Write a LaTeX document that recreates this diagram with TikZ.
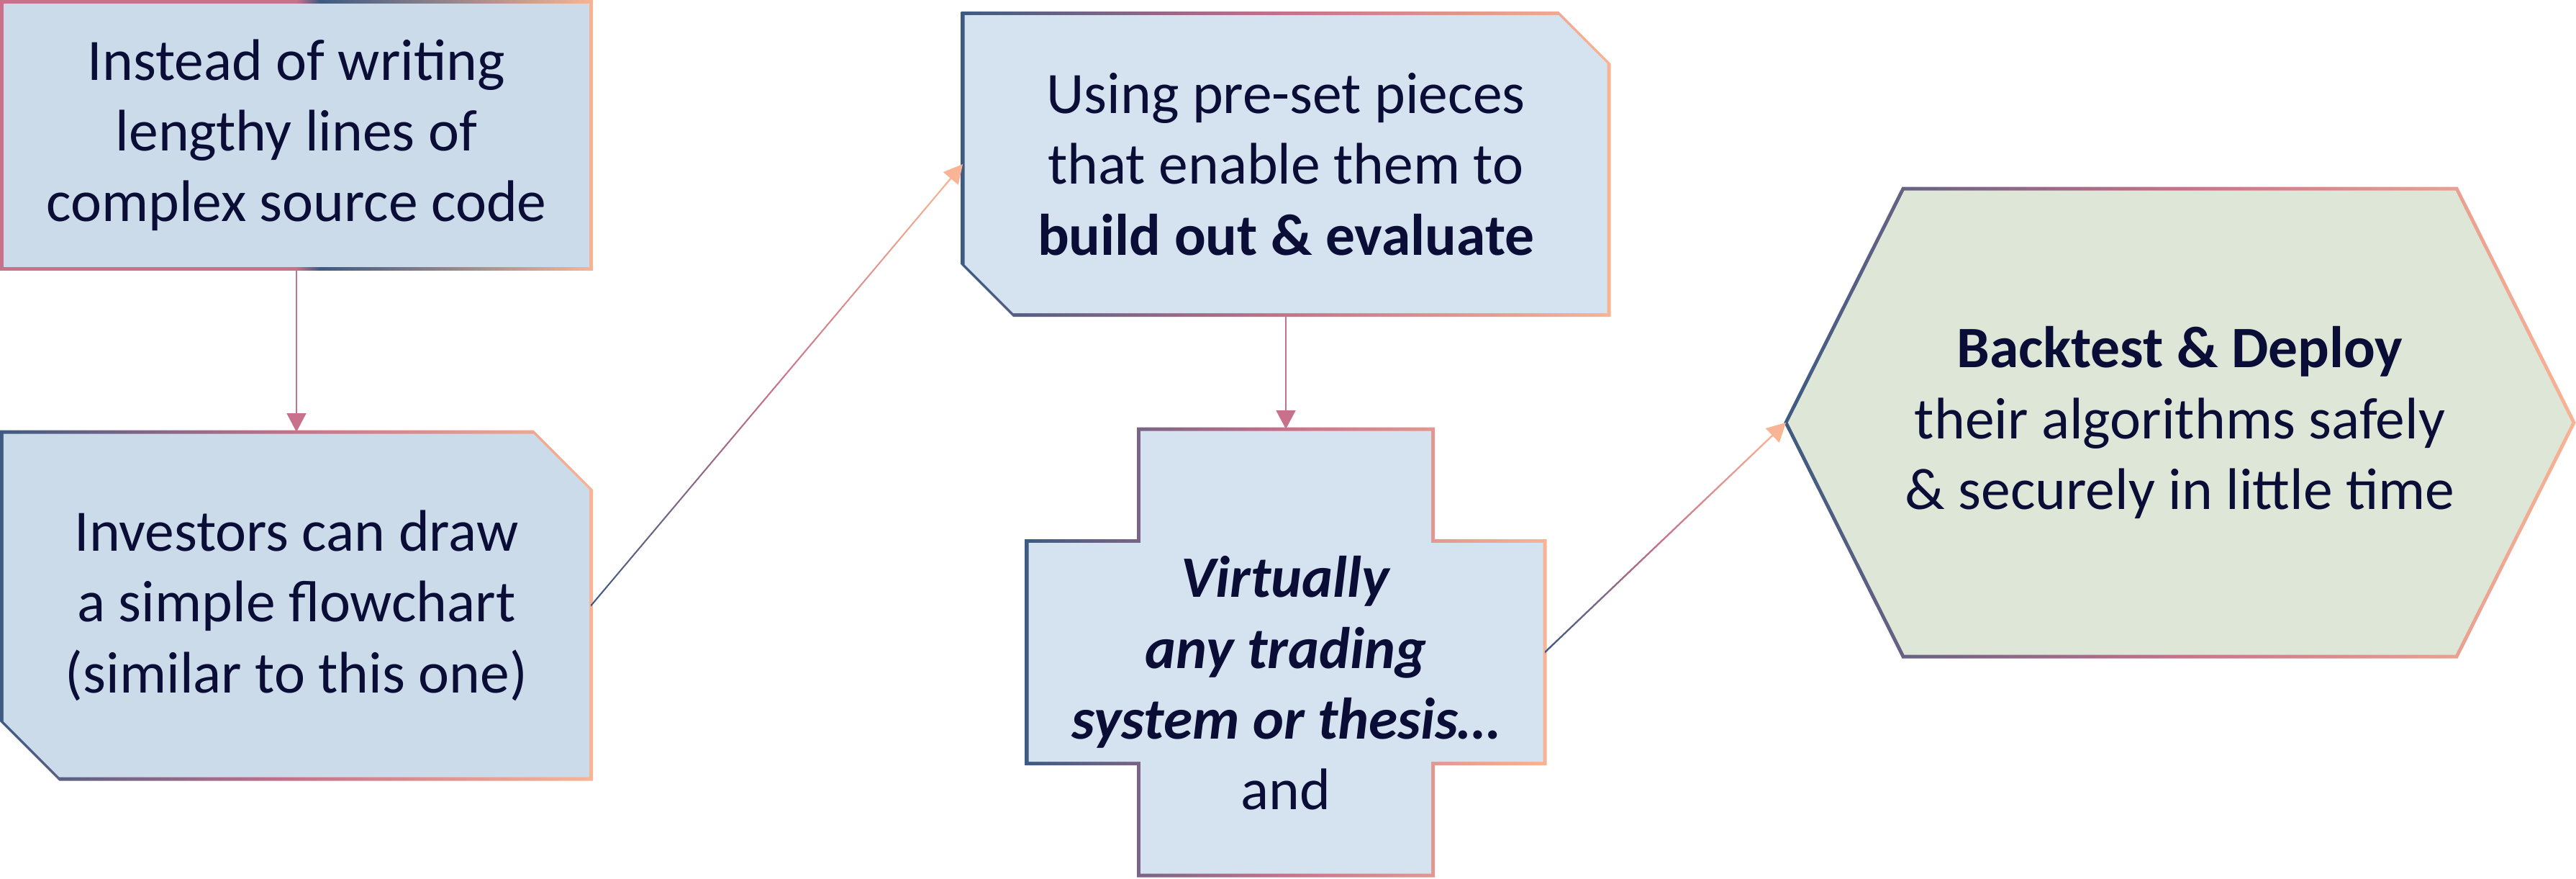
\documentclass[tikz,border=0pt]{standalone}
\usepackage{fontspec}
\setmainfont{Carlito}
\usetikzlibrary{arrows.meta,calc,backgrounds}

\definecolor{edgeblue}{HTML}{3D5B82}
\definecolor{edgepink}{HTML}{C8718A}
\definecolor{edgepeach}{HTML}{F8B494}
\definecolor{boxblue}{HTML}{CBDBEA}
\definecolor{boxpale}{HTML}{D5E2EF}
\definecolor{boxgreen}{HTML}{DEE6D8}
\definecolor{inkblue}{HTML}{0A0D36}

\pgfdeclarehorizontalshading{firstedge}{100bp}{color(0bp)=(edgepink); color(50bp)=(edgepink); color(52bp)=(edgeblue); color(75bp)=(edgepeach); color(100bp)=(edgepeach)}

\newcommand\snippath[3]{([shift={({-(#3)},{#3})}]#1.north west) -- ([shift={({-(#2)},{#3})}]#1.north east) -- ([shift={({#3},{-(#2)})}]#1.north east) -- ([shift={({#3},{-(#3)})}]#1.south east) -- ([shift={({#2},{-(#3)})}]#1.south west) -- ([shift={({-(#3)},{#2})}]#1.south west) -- cycle}
\newcommand\pluspath[3]{([shift={({#2-(#3)},{#3})}]#1.north west) -- ([shift={({(#3)-(#2)},{#3})}]#1.north east) -- ([shift={({(#3)-(#2)},{(#3)-(#2)})}]#1.north east) -- ([shift={({#3},{(#3)-(#2)})}]#1.north east) -- ([shift={({#3},{(#2)-(#3)})}]#1.south east) -- ([shift={({(#3)-(#2)},{(#2)-(#3)})}]#1.south east) -- ([shift={({(#3)-(#2)},{-(#3)})}]#1.south east) -- ([shift={({(#2)-(#3)},{-(#3)})}]#1.south west) -- ([shift={({(#2)-(#3)},{(#2)-(#3)})}]#1.south west) -- ([shift={({-(#3)},{(#2)-(#3)})}]#1.south west) -- ([shift={({-(#3)},{(#3)-(#2)})}]#1.north west) -- ([shift={({(#2)-(#3)},{(#3)-(#2)})}]#1.north west) -- cycle}
\newcommand\hexpath[3]{([shift={({-1.119*(#3)},0)}]#1.west) -- ([shift={({#2-0.617*(#3)},{#3})}]#1.north west) -- ([shift={({-(#2)+0.617*(#3)},{#3})}]#1.north east) -- ([shift={({1.119*(#3)},0)}]#1.east) -- ([shift={({-(#2)+0.617*(#3)},{-(#3)})}]#1.south east) -- ([shift={({#2-0.617*(#3)},{-(#3)})}]#1.south west) -- cycle}

\begin{document}
\begin{tikzpicture}[
    box/.style={inner sep=0pt, outer sep=0pt, align=center, text=inkblue, font=\fontsize{23.2}{28}\selectfont},
    arrow/.style={line width=0.02cm, -{Triangle[width=0.27cm, length=0.26cm]}},
    rim/.style={left color=edgeblue, right color=edgepeach, middle color=edgepink}
]
    \useasboundingbox (0,0) rectangle (35.8,-12.2);

    \node[box, minimum width=8.19cm, minimum height=3.705cm] (code) at (4.12,-1.8775) {Instead of writing\\lengthy lines of\\complex source code};
    \node[box, minimum width=8.19cm, minimum height=4.82cm] (chart) at (4.12,-8.41) {Investors can draw\\a simple flowchart\\(similar to this one)};
    \node[box, minimum width=8.98cm, minimum height=4.19cm] (pieces) at (17.87,-2.28) {Using pre-set pieces\\that enable them to\\\textbf{build out \& evaluate}};
    \node[box, minimum width=7.2cm, minimum height=6.2cm] (system) at (17.87,-9.06) {};
    \node[box] (systext) at (17.87,-9.49) {\textbf{\textit{Virtually}}\\\textbf{\textit{any trading}}\\\textbf{\textit{system or thesis…}}\\and};
    \node[box, minimum width=10.95cm, minimum height=6.5cm] (deploy) at (30.295,-5.87) {\textbf{Backtest \& Deploy}\\their algorithms safely\\\& securely in little time};

    \begin{scope}[on background layer]
        \shade[shading=firstedge] ([shift={(-0.025,0.025)}]code.north west) rectangle ([shift={(0.025,-0.025)}]code.south east);
        \fill[boxblue] ([shift={(0.025,-0.025)}]code.north west) rectangle ([shift={(-0.025,0.025)}]code.south east);
        \shade[rim] \snippath{chart}{0.8}{0.025};
        \fill[boxblue] \snippath{chart}{0.8}{-0.025};
        \shade[rim] \snippath{pieces}{0.7}{0.025};
        \fill[boxpale] \snippath{pieces}{0.7}{-0.025};
        \shade[rim] \pluspath{system}{1.555}{0.025};
        \fill[boxpale] \pluspath{system}{1.555}{-0.025};
        \shade[rim] \hexpath{deploy}{1.63}{0.025};
        \fill[boxgreen] \hexpath{deploy}{1.63}{-0.025};
    \end{scope}

    \draw[arrow, edgepink] (code) -- (chart);
    \draw[arrow, edgepink] (pieces) -- (system);

    \coordinate (c2) at ($(pieces.west)!0.2cm!(chart.east)$);
    \coordinate (h2) at ($(pieces.west)!0.4cm!(chart.east)$);
    \shade[rim] ([yshift=0.016cm]chart.east) -- ([yshift=0.016cm]c2) -- ([yshift=-0.016cm]c2) -- ([yshift=-0.016cm]chart.east) -- cycle;
    \draw[arrow, edgepeach] (h2) -- (pieces.west);

    \coordinate (c4) at ($(deploy.west)!0.2cm!(system.east)$);
    \coordinate (h4) at ($(deploy.west)!0.4cm!(system.east)$);
    \shade[rim] ([yshift=0.016cm]system.east) -- ([yshift=0.016cm]c4) -- ([yshift=-0.016cm]c4) -- ([yshift=-0.016cm]system.east) -- cycle;
    \draw[arrow, edgepeach] (h4) -- (deploy.west);
\end{tikzpicture}
\end{document}
